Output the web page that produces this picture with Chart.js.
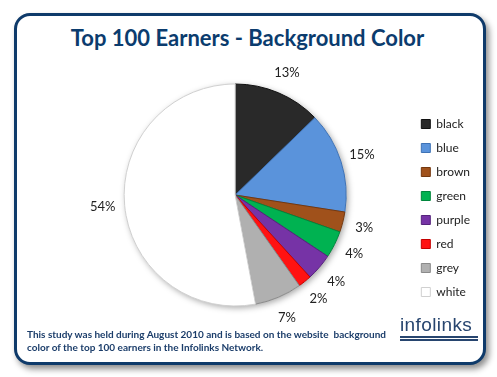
<!DOCTYPE html>
<html>
<head>
<meta charset="utf-8">
<script src="https://cdn.jsdelivr.net/npm/chart.js@4.4.0/dist/chart.umd.min.js"></script>
<style>
  html, body { margin: 0; padding: 0; background: #fff; }
  #wrap { position: relative; width: 497px; height: 377px; overflow: hidden; }
  #card {
    position: absolute; left: 14px; top: 13px; width: 466px; height: 346px;
    border: 3px solid #0e3a6a; border-radius: 16px; background: #fff;
    box-shadow: 3px 4px 6px rgba(0,0,0,0.45);
  }
  canvas { position: absolute; left: 0; top: 0; }
  #title {
    position: absolute; left: 0; top: 24px; width: 495px; text-align: center;
    font: bold 22px Lato, sans-serif; color: #0b3c6e; line-height: 28px;
  }
  #note {
    position: absolute; left: 27px; top: 328px; width: 380px; white-space: nowrap;
    font: bold 10px Lato, sans-serif; color: #1b3d6a; line-height: 13px;
  }
  #logo { position: absolute; left: 400px; top: 315px; width: 78px; }
  #logo .txt { font: 19px "Liberation Sans", sans-serif; color: #27456f; letter-spacing: 0.4px; line-height: 20px; }
  #logo .lines { height: 1px; border-top: 2px solid #27456f; border-bottom: 2px solid #27456f; margin-top: 1px; }
</style>
</head>
<body>
<div id="wrap">
  <div id="card"></div>
  <div id="title">Top 100 Earners - Background Color</div>
  <canvas id="pieChart" width="497" height="377"></canvas>
  <div id="note">This study was held during August 2010 and is based on the website&nbsp; background<br>color of the top 100 earners in the Infolinks Network.</div>
  <div id="logo"><div class="txt">infolinks</div><div class="lines"></div></div>
</div>
<script>
  'use strict';

  var categories = ['black', 'blue', 'brown', 'green', 'purple', 'red', 'grey', 'white'];
  var shares = [13, 15, 3, 4, 4, 2, 7, 54];
  var fillColors = ['#292929', '#5a93db', '#a0511b', '#00b251', '#7633a6', '#ff1212', '#b0b0b0', '#ffffff'];
  var edgeColors = ['#111111', '#3e72b5', '#74380f', '#00863c', '#55237c', '#c40000', '#8a8a8a', '#d0d0d0'];

  // soft shadow under the whole pie
  var pieShadow = {
    id: 'pieShadow',
    beforeDatasetsDraw: function (chart) {
      var arc = chart.getDatasetMeta(0).data[0];
      if (!arc) return;
      var c = chart.ctx;
      c.save();
      c.shadowColor = 'rgba(0,0,0,0.35)';
      c.shadowBlur = 6;
      c.shadowOffsetX = 2;
      c.shadowOffsetY = 2;
      c.beginPath();
      c.arc(arc.x, arc.y, arc.outerRadius, 0, Math.PI * 2);
      c.fillStyle = '#ffffff';
      c.fill();
      c.restore();
    }
  };

  // percent labels just outside each slice
  var outsideLabels = {
    id: 'outsideLabels',
    afterDatasetsDraw: function (chart) {
      var c = chart.ctx;
      var meta = chart.getDatasetMeta(0);
      c.save();
      c.font = '13px Lato, sans-serif';
      c.fillStyle = '#222222';
      c.textAlign = 'center';
      c.textBaseline = 'middle';
      meta.data.forEach(function (arc, i) {
        var mid = (arc.startAngle + arc.endAngle) / 2;
        var r = arc.outerRadius + 22;
        c.fillText(shares[i] + '%', arc.x + Math.cos(mid) * r, arc.y + Math.sin(mid) * r);
      });
      c.restore();
    }
  };

  new Chart(document.getElementById('pieChart'), {
    type: 'pie',
    data: {
      labels: categories,
      datasets: [{
        data: shares,
        backgroundColor: fillColors,
        borderColor: edgeColors,
        borderWidth: 1,
        radius: 111
      }]
    },
    options: {
      responsive: false,
      animation: false,
      layout: { padding: { left: 61, right: 17, top: 13, bottom: 0 } },
      plugins: {
        legend: {
          position: 'right',
          title: { display: true, text: ' ', padding: { top: 0, bottom: 11.6 }, font: { size: 12 } },
          labels: {
            boxWidth: 9,
            boxHeight: 9,
            padding: 12,
            color: '#222222',
            font: { family: 'Lato', size: 12 }
          }
        },
        tooltip: { enabled: false }
      }
    },
    plugins: [pieShadow, outsideLabels]
  });
</script>
</body>
</html>
